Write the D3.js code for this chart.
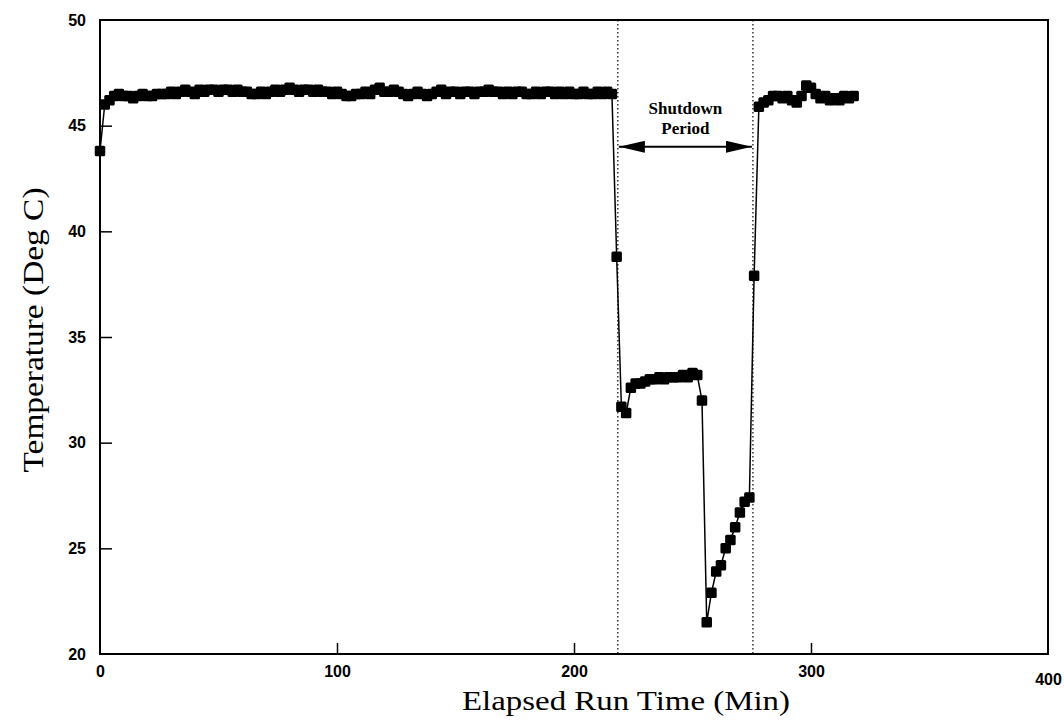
<!DOCTYPE html>
<html>
<head>
<meta charset="utf-8">
<script src="https://cdn.jsdelivr.net/npm/d3@7"></script>
<style>
  body { margin: 0; background: #fff; }
  svg { display: block; }
</style>
</head>
<body>
<div id="chart"></div>
<script>
// data
let timeMin = [
  0, 2, 4, 6, 8, 10, 12, 14, 16, 18, 20, 22, 24, 26, 28, 30, 32, 34, 36, 38,
  40, 42, 44, 46, 48, 50, 52, 54, 56, 58, 60, 62, 64, 66, 68, 70, 72, 74, 76, 78,
  80, 82, 84, 86, 88, 90, 92, 94, 96, 98, 100, 102, 104, 106, 108, 110, 112, 114, 116, 118,
  120, 122, 124, 126, 128, 130, 132, 134, 136, 138, 140, 142, 144, 146, 148, 150, 152, 154, 156, 158,
  160, 162, 164, 166, 168, 170, 172, 174, 176, 178, 180, 182, 184, 186, 188, 190, 192, 194, 196, 198,
  200, 202, 204, 206, 208, 210, 212, 214, 216, 218, 220, 222, 224, 226, 228, 230, 232, 234, 236, 238,
  240, 242, 244, 246, 248, 250, 252, 254, 256, 258, 260, 262, 264, 266, 268, 270, 272, 274, 276, 278,
  280, 282, 284, 286, 288, 290, 292, 294, 296, 298, 300, 302, 304, 306, 308, 310, 312, 314, 316, 318
];
let tempDegC = [
  43.8, 46.0, 46.2, 46.4, 46.5, 46.4, 46.4, 46.3, 46.4, 46.5, 46.4, 46.4, 46.5, 46.5, 46.5, 46.6, 46.5, 46.6, 46.7, 46.6,
  46.5, 46.7, 46.6, 46.7, 46.7, 46.6, 46.7, 46.7, 46.6, 46.7, 46.6, 46.6, 46.5, 46.5, 46.6, 46.5, 46.6, 46.7, 46.6, 46.7,
  46.8, 46.7, 46.6, 46.7, 46.7, 46.6, 46.7, 46.6, 46.6, 46.5, 46.6, 46.5, 46.4, 46.4, 46.5, 46.5, 46.6, 46.5, 46.7, 46.8,
  46.6, 46.6, 46.7, 46.6, 46.5, 46.4, 46.5, 46.6, 46.5, 46.4, 46.5, 46.6, 46.7, 46.5, 46.6, 46.6, 46.5, 46.6, 46.6, 46.5,
  46.6, 46.6, 46.7, 46.6, 46.6, 46.5, 46.6, 46.5, 46.6, 46.6, 46.5, 46.5, 46.6, 46.5, 46.6, 46.6, 46.5, 46.6, 46.5, 46.6,
  46.5, 46.5, 46.6, 46.5, 46.5, 46.6, 46.5, 46.6, 46.5, 38.8, 31.7, 31.4, 32.6, 32.8, 32.8, 32.9, 33.0, 33.0, 33.1, 33.0,
  33.1, 33.1, 33.1, 33.2, 33.1, 33.3, 33.2, 32.0, 21.5, 22.9, 23.9, 24.2, 25.0, 25.4, 26.0, 26.7, 27.2, 27.4, 37.9, 45.9,
  46.1, 46.2, 46.4, 46.4, 46.3, 46.4, 46.2, 46.1, 46.4, 46.9, 46.8, 46.5, 46.3, 46.4, 46.2, 46.3, 46.2, 46.4, 46.3, 46.4
];
let xTicks = [0, 100, 200, 300, 400];
let yTicks = [20, 25, 30, 35, 40, 45, 50];
// shutdown period (min) and where its arrow sits (deg C)
let shutdownBounds = [218.5, 275.5];
let shutdownArrowTemp = 44.0;
let shutdownLabel = ["Shutdown", "Period"];

let width = 1064, height = 721;
let margin = {top: 20, right: 16, bottom: 67, left: 100};

let svg = d3.select("#chart").append("svg")
  .attr("width", width)
  .attr("height", height);

let x = d3.scaleLinear().domain([0, 400]).range([margin.left, width - margin.right]);
let y = d3.scaleLinear().domain([20, 50]).range([height - margin.bottom, margin.top]);

let serif = "'Liberation Serif', 'DejaVu Serif', serif";
let sans = "'Liberation Sans', 'DejaVu Sans', sans-serif";

// frame
svg.append("rect")
  .attr("x", x(0)).attr("y", y(50))
  .attr("width", x(400) - x(0)).attr("height", y(20) - y(50))
  .attr("fill", "none").attr("stroke", "#000").attr("stroke-width", 2);

// axes with inward ticks
let xAxis = svg.append("g")
  .attr("transform", "translate(0," + y(20) + ")")
  .call(d3.axisBottom(x).tickValues(xTicks).tickSizeInner(-11).tickSizeOuter(0).tickPadding(10));
xAxis.select(".domain").remove();
xAxis.selectAll(".tick line").attr("stroke-width", 1.5)
  .filter(d => d == 0 || d == 400).remove();
xAxis.selectAll("text")
  .attr("font-family", sans).attr("font-weight", "bold").attr("font-size", 16)
  .attr("dy", "0.8em");
xAxis.selectAll(".tick").filter(d => d == 400).select("text").attr("dy", "1.3em");

let yAxis = svg.append("g")
  .attr("transform", "translate(" + x(0) + ",0)")
  .call(d3.axisLeft(y).tickValues(yTicks).tickSizeInner(-12).tickSizeOuter(0).tickPadding(14));
yAxis.select(".domain").remove();
yAxis.selectAll(".tick line").attr("stroke-width", 1.5)
  .filter(d => d == 20 || d == 50).remove();
yAxis.selectAll("text")
  .attr("font-family", sans).attr("font-weight", "bold").attr("font-size", 16);

// axis titles
svg.append("text")
  .attr("x", 626).attr("y", 710)
  .attr("text-anchor", "middle")
  .attr("font-family", serif).attr("font-size", 28)
  .attr("textLength", 328).attr("lengthAdjust", "spacingAndGlyphs")
  .text("Elapsed Run Time (Min)");

svg.append("text")
  .attr("transform", "translate(43,330) rotate(-90)")
  .attr("text-anchor", "middle")
  .attr("font-family", serif).attr("font-size", 29)
  .attr("textLength", 285).attr("lengthAdjust", "spacingAndGlyphs")
  .text("Temperature (Deg C)");

// shutdown dotted markers
svg.selectAll(".shutdown-line")
  .data(shutdownBounds)
  .enter().append("line")
  .attr("class", "shutdown-line")
  .attr("x1", d => x(d)).attr("x2", d => x(d))
  .attr("y1", y(50)).attr("y2", y(20))
  .attr("stroke", "#000").attr("stroke-width", 1.2)
  .attr("stroke-dasharray", "1.5,2.5");

// double headed arrow
let defs = svg.append("defs");
defs.append("marker")
  .attr("id", "head")
  .attr("viewBox", "0 0 26 12")
  .attr("refX", 26).attr("refY", 6)
  .attr("markerWidth", 26).attr("markerHeight", 12)
  .attr("markerUnits", "userSpaceOnUse")
  .attr("orient", "auto-start-reverse")
  .append("path")
  .attr("d", "M0,0 L26,6 L0,12 Z")
  .attr("fill", "#000");

svg.append("line")
  .attr("x1", x(shutdownBounds[0]) + 1).attr("x2", x(shutdownBounds[1]) - 1)
  .attr("y1", y(shutdownArrowTemp)).attr("y2", y(shutdownArrowTemp))
  .attr("stroke", "#000").attr("stroke-width", 2)
  .attr("marker-start", "url(#head)")
  .attr("marker-end", "url(#head)");

svg.selectAll(".shutdown-label")
  .data(shutdownLabel)
  .enter().append("text")
  .attr("class", "shutdown-label")
  .attr("x", (x(shutdownBounds[0]) + x(shutdownBounds[1])) / 2)
  .attr("y", (d, i) => y(shutdownArrowTemp) - 33 + i * 20)
  .attr("text-anchor", "middle")
  .attr("font-family", serif).attr("font-weight", "bold").attr("font-size", 17)
  .text(d => d);

// data line + markers
let points = timeMin.map((t, i) => ({t: t, v: tempDegC[i]}));

let line = d3.line()
  .x(d => x(d.t))
  .y(d => y(d.v));

svg.append("path")
  .datum(points)
  .attr("d", line)
  .attr("fill", "none")
  .attr("stroke", "#000")
  .attr("stroke-width", 1.5);

let markerSize = 10.5;
svg.selectAll(".pt")
  .data(points)
  .enter().append("rect")
  .attr("class", "pt")
  .attr("x", d => x(d.t) - markerSize / 2)
  .attr("y", d => y(d.v) - markerSize / 2)
  .attr("width", markerSize).attr("height", markerSize)
  .attr("rx", 1.5)
  .attr("fill", "#000");
</script>
</body>
</html>
